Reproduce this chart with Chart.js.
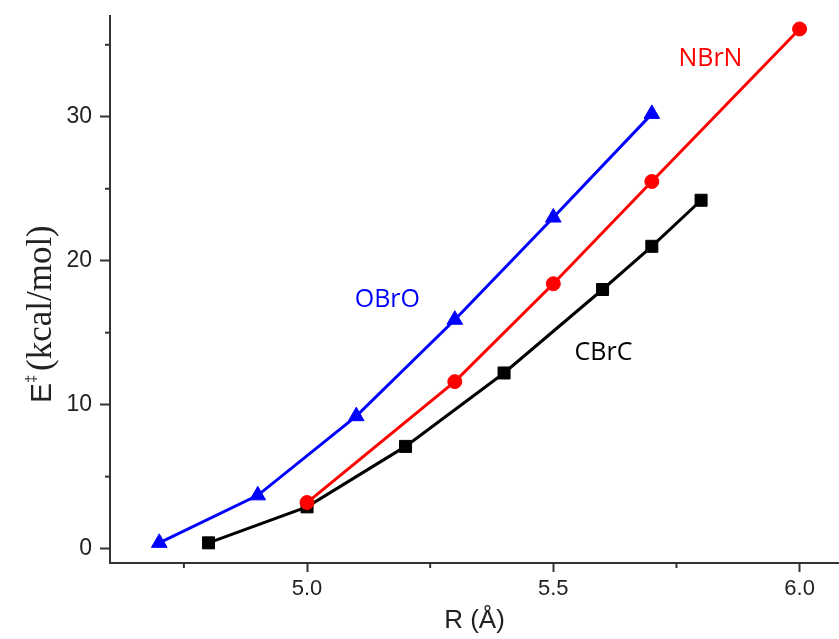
<!DOCTYPE html>
<html>
<head>
<meta charset="utf-8">
<script src="https://cdn.jsdelivr.net/npm/chart.js@4.4.1/dist/chart.umd.min.js"></script>
<style>
  html, body { margin: 0; padding: 0; background: #fff; }
  canvas { display: block; }
</style>
</head>
<body>
<canvas id="barrierChart" width="839" height="639"></canvas>
<script>
// R (Å) and barrier E (kcal/mol) for each series
const obroR = [4.7, 4.9, 5.1, 5.3, 5.5, 5.7];
const obroE = [0.4, 3.7, 9.2, 15.9, 23.0, 30.2];
const nbrnR = [5.0, 5.3, 5.5, 5.7, 6.0];
const nbrnE = [3.2, 11.6, 18.4, 25.5, 36.1];
const cbrcR = [4.8, 5.0, 5.2, 5.4, 5.6, 5.7, 5.8];
const cbrcE = [0.4, 2.9, 7.1, 12.2, 18.0, 21.0, 24.2];

// axis ticks (labelled ones are the major ticks)
const xTicks = [4.75, 5.0, 5.25, 5.5, 5.75, 6.0];
const xLabelled = [5.0, 5.5, 6.0];
const yTicks = [0, 5, 10, 15, 20, 25, 30, 35];
const yLabelled = [0, 10, 20, 30];

// in-plot series names, placed in data units
const seriesNames = ["OBrO", "NBrN", "CBrC"];
const nameR = [5.163, 5.819, 5.602];
const nameE = [17.25, 34.04, 13.6];

const colors = ["#0000ff", "#ff0000", "#000000"];
const axisColor = "#333";

function toPoints(xs, ys) {
  return xs.map((x, i) => ({ x: x, y: ys[i] }));
}

const extrasPlugin = {
  id: "extras",
  afterDraw(chart) {
    const ctx = chart.ctx;
    const xs = chart.scales.x;
    const ys = chart.scales.y;
    ctx.save();

    // short minor ticks
    ctx.strokeStyle = axisColor;
    ctx.lineWidth = 2;
    xTicks.filter(v => !xLabelled.includes(v)).forEach(v => {
      const px = xs.getPixelForValue(v);
      ctx.beginPath();
      ctx.moveTo(px, xs.top);
      ctx.lineTo(px, xs.top + 5);
      ctx.stroke();
    });
    yTicks.filter(v => !yLabelled.includes(v)).forEach(v => {
      const py = ys.getPixelForValue(v);
      ctx.beginPath();
      ctx.moveTo(ys.right, py);
      ctx.lineTo(ys.right - 5, py);
      ctx.stroke();
    });

    // series names
    ctx.font = "25px 'Open Sans'";
    ctx.textAlign = "center";
    ctx.textBaseline = "middle";
    seriesNames.forEach((name, i) => {
      ctx.fillStyle = colors[i];
      ctx.fillText(name, xs.getPixelForValue(nameR[i]), ys.getPixelForValue(nameE[i]));
    });

    // y title: E‡(kcal/mol)
    ctx.translate(51, 403);
    ctx.rotate(-Math.PI / 2);
    ctx.textAlign = "left";
    ctx.textBaseline = "alphabetic";
    ctx.fillStyle = "#222";
    ctx.font = "30px 'Liberation Sans'";
    ctx.fillText("E", 0, 0);
    ctx.font = "15px 'Liberation Sans'";
    ctx.fillText("‡", 20, -15);
    ctx.font = "35px 'Liberation Serif'";
    ctx.fillText("(kcal/mol)", 32, 0);
    ctx.restore();
  }
};

new Chart(document.getElementById("barrierChart").getContext("2d"), {
  type: "line",
  data: {
    datasets: [
      { label: seriesNames[0], data: toPoints(obroR, obroE), pointStyle: "triangle", pointRadius: 9 },
      { label: seriesNames[1], data: toPoints(nbrnR, nbrnE), pointStyle: "circle", pointRadius: 7 },
      { label: seriesNames[2], data: toPoints(cbrcR, cbrcE), pointStyle: "rect", pointRadius: 8.5 }
    ].map((d, i) => Object.assign(d, {
      borderColor: colors[i],
      backgroundColor: colors[i],
      pointBackgroundColor: colors[i],
      pointBorderColor: colors[i],
      pointBorderWidth: 1,
      borderWidth: 3,
      tension: 0
    }))
  },
  options: {
    responsive: false,
    animation: false,
    layout: { autoPadding: false, padding: { top: 16, right: 0, left: 0, bottom: 0 } },
    plugins: {
      legend: { display: false },
      tooltip: { enabled: false }
    },
    scales: {
      x: {
        type: "linear",
        min: 4.6,
        max: 6.08,
        afterBuildTicks: scale => { scale.ticks = xTicks.map(v => ({ value: v })); },
        afterFit: scale => {
          scale.height = 76;
          scale.paddingLeft = 0;
          scale.paddingRight = 0;
        },
        border: { display: true, color: axisColor, width: 2 },
        grid: {
          drawOnChartArea: false,
          tickLength: 9,
          tickWidth: 2,
          tickColor: c => xLabelled.includes(c.tick.value) ? axisColor : "rgba(0,0,0,0)"
        },
        ticks: {
          autoSkip: false,
          maxRotation: 0,
          padding: 4,
          color: "#222",
          font: { family: "'Liberation Sans'", size: 22 },
          callback: v => xLabelled.includes(v) ? v.toFixed(1) : ""
        },
        title: {
          display: true,
          text: "R (Å)",
          color: "#222",
          font: { family: "'Liberation Sans'", size: 26 },
          padding: { top: 0, bottom: 3 }
        }
      },
      y: {
        type: "linear",
        min: -1,
        max: 37,
        afterBuildTicks: scale => { scale.ticks = yTicks.map(v => ({ value: v })); },
        afterFit: scale => {
          scale.width = 110;
          scale.paddingTop = 0;
          scale.paddingBottom = 0;
        },
        border: { display: true, color: axisColor, width: 2 },
        grid: {
          drawOnChartArea: false,
          tickLength: 10,
          tickWidth: 2,
          tickColor: c => yLabelled.includes(c.tick.value) ? axisColor : "rgba(0,0,0,0)"
        },
        ticks: {
          autoSkip: false,
          padding: 8,
          color: "#222",
          font: { family: "'Liberation Sans'", size: 23 },
          callback: v => yLabelled.includes(v) ? String(v) : ""
        }
      }
    }
  },
  plugins: [extrasPlugin]
});
</script>
</body>
</html>
